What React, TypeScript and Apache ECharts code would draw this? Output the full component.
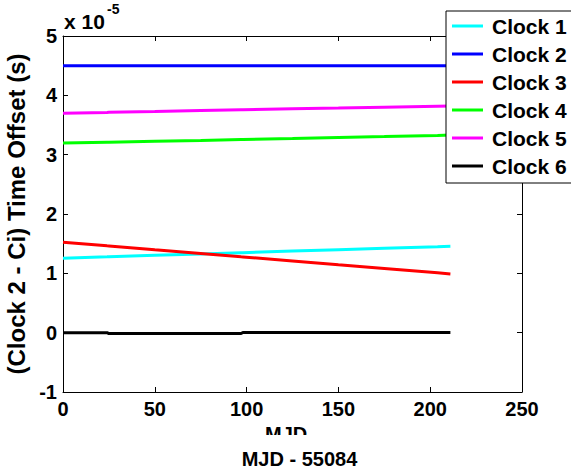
import React, { useEffect, useRef } from "react";
import * as echarts from "echarts";

const xValues = [0, 24, 25, 50, 75, 97, 98, 125, 150, 175, 204, 211];
const clock1 = [1.255, 1.278, 1.279, 1.303, 1.327, 1.348, 1.349, 1.375, 1.399, 1.423, 1.45, 1.457];
const clock2 = [4.5, 4.5, 4.5, 4.5, 4.5, 4.5, 4.5, 4.5, 4.5, 4.5, 4.5, 4.5];
const clock3 = [1.524, 1.463, 1.461, 1.397, 1.334, 1.278, 1.276, 1.208, 1.144, 1.081, 1.008, 0.99];
const clock4 = [3.195, 3.21, 3.21, 3.225, 3.24, 3.255, 3.255, 3.272, 3.29, 3.305, 3.325, 3.332];
const clock5 = [3.7, 3.712, 3.715, 3.728, 3.745, 3.758, 3.758, 3.772, 3.785, 3.8, 3.817, 3.82];
const clock6 = [0, 0, -0.015, -0.015, -0.015, -0.015, 0.003, 0.003, 0.003, 0.003, 0.003, 0.003];

const seriesNames = ["Clock 1", "Clock 2", "Clock 3", "Clock 4", "Clock 5", "Clock 6"];
const seriesValues = [clock1, clock2, clock3, clock4, clock5, clock6];
const seriesColors = ["#00FFFF", "#0000FF", "#FF0000", "#00FF00", "#FF00FF", "#000000"];

const xTicks = [0, 50, 100, 150, 200, 250];
const yTicks = [-1, 0, 1, 2, 3, 4, 5];

const FONT = "Liberation Sans";

export default function App() {
  const ref = useRef<HTMLDivElement>(null);
  useEffect(() => {
    if (!ref.current) return;
    const chart = echarts.init(ref.current, null, { renderer: "svg" });
    const axisCommon = {
      axisLine: { show: true, onZero: false, lineStyle: { color: "#000", width: 1 } },
      axisTick: { show: true, inside: true, length: 5, lineStyle: { color: "#000" } },
      splitLine: { show: false },
    };
    chart.setOption({
      animation: false,
      backgroundColor: "#fff",
      textStyle: { fontFamily: FONT },
      title: [
        {
          text: "x 10",
          left: 64,
          top: 11,
          padding: 0,
          textStyle: { color: "#000", fontSize: 21, fontWeight: "bold", fontFamily: FONT },
        },
        {
          text: "-5",
          left: 107,
          top: 2,
          padding: 0,
          textStyle: { color: "#000", fontSize: 14, fontWeight: "bold", fontFamily: FONT },
        },
      ],
      grid: { left: 63, right: 49, top: 36, bottom: 79, containLabel: false, outerBoundsMode: "none" },
      xAxis: [
        {
          type: "value",
          min: xTicks[0],
          max: xTicks[xTicks.length - 1],
          interval: 50,
          position: "bottom",
          ...axisCommon,
          axisLabel: { color: "#000", fontWeight: "bold", fontSize: 20, fontFamily: FONT, margin: 7 },
          name: "MJD - 55084",
          nameLocation: "middle",
          nameGap: 57,
          nameTextStyle: { color: "#000", fontWeight: "bold", fontSize: 20, fontFamily: FONT, padding: [0, 0, 0, 14] },
        },
        {
          type: "value",
          min: xTicks[0],
          max: xTicks[xTicks.length - 1],
          interval: 50,
          position: "top",
          ...axisCommon,
          axisLabel: { show: false },
        },
      ],
      yAxis: [
        {
          type: "value",
          min: yTicks[0],
          max: yTicks[yTicks.length - 1],
          interval: 1,
          position: "left",
          ...axisCommon,
          axisLabel: { color: "#000", fontWeight: "bold", fontSize: 20, fontFamily: FONT, margin: 6 },
          name: "(Clock 2 - Ci) Time Offset (s)",
          nameLocation: "middle",
          nameGap: 25,
          nameRotate: 90,
          nameTextStyle: { color: "#000", fontWeight: "bold", fontSize: 24, fontFamily: FONT },
        },
        {
          type: "value",
          min: yTicks[0],
          max: yTicks[yTicks.length - 1],
          interval: 1,
          position: "right",
          ...axisCommon,
          axisLabel: { show: false },
        },
      ],
      legend: {
        show: true,
        orient: "vertical",
        left: 446,
        top: 11,
        padding: [1, 50, 3, 6],
        icon: "rect",
        itemWidth: 31,
        itemHeight: 3,
        itemGap: 0,
        backgroundColor: "#fff",
        borderColor: "#000",
        borderWidth: 1,
        borderRadius: 0,
        textStyle: {
          color: "#000",
          fontWeight: "bold",
          fontSize: 21,
          lineHeight: 28,
          fontFamily: FONT,
          padding: [0, 0, 0, 4],
        },
        data: seriesNames,
        selectedMode: false,
        z: 10,
      },
      graphic: [
        {
          type: "text",
          left: 265,
          top: 424,
          z: 1,
          style: { text: "MJD", fill: "#000", fontSize: 20, fontWeight: "bold", fontFamily: FONT },
        },
        {
          type: "rect",
          left: 255,
          top: 435,
          z: 2,
          shape: { width: 70, height: 13 },
          style: { fill: "#fff" },
        },
      ],
      series: seriesNames.map((name, i) => ({
        name,
        type: "line",
        xAxisIndex: 0,
        yAxisIndex: 0,
        showSymbol: false,
        symbol: "none",
        color: seriesColors[i],
        lineStyle: { color: seriesColors[i], width: 3 },
        data: xValues.map((x, j) => [x, seriesValues[i][j]]),
      })),
    });
    return () => chart.dispose();
  }, []);
  return (
    <div
      ref={ref}
      style={{ position: "fixed", left: 0, top: 0, width: 571, height: 471, background: "#fff" }}
    />
  );
}
